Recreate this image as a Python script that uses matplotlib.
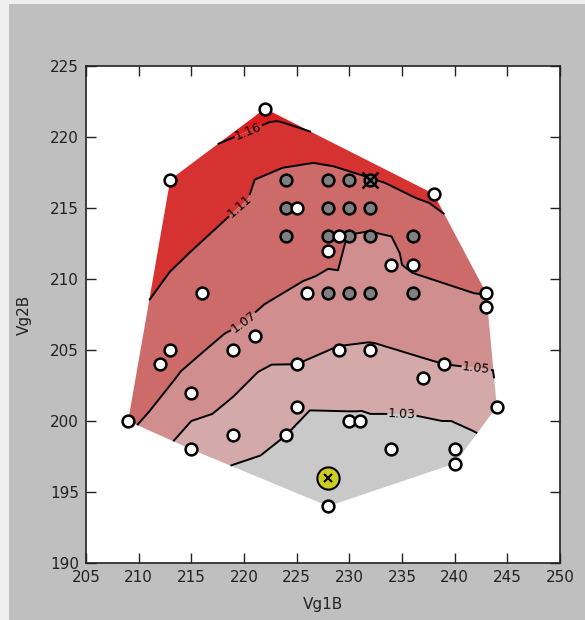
import matplotlib
matplotlib.use("Agg")
import matplotlib.pyplot as plt
import matplotlib.tri as mtri
from matplotlib.patches import Rectangle

# Measured operating points (Vg1B, Vg2B) and the ratio found at each one
vg1_meas = [222, 213, 238, 225, 229, 228, 216, 226, 234, 236, 243, 243,
            221, 219, 213, 212, 225, 229, 232, 239, 237, 244, 215, 209,
            225, 224, 219, 215, 230, 231, 234, 240, 240, 228]
vg2_meas = [222, 217, 216, 215, 213, 212, 209, 209, 211, 211, 209, 208,
            206, 205, 205, 204, 204, 205, 205, 204, 203, 201, 202, 200,
            201, 199, 199, 198, 200, 200, 198, 198, 197, 194]
ratio_meas = [1.175, 1.145, 1.12, 1.095, 1.075, 1.076, 1.09, 1.066, 1.068, 1.072, 1.071, 1.062,
              1.063, 1.062, 1.08, 1.08, 1.05, 1.049, 1.048, 1.05, 1.045, 1.043, 1.06, 1.075,
              1.031, 1.03, 1.04, 1.04, 1.027, 1.027, 1.015, 1.02, 1.015, 1.005]

# Grid of scan points (grey)
vg1_scan = [224, 228, 230, 224, 228, 230, 232, 224, 228, 230, 232, 236,
            228, 230, 232, 236]
vg2_scan = [217, 217, 217, 215, 215, 215, 215, 213, 213, 213, 213, 213,
            209, 209, 209, 209]
ratio_scan = [1.097, 1.09, 1.095, 1.093, 1.085, 1.085, 1.085, 1.085, 1.08, 1.069, 1.067, 1.073,
              1.062, 1.063, 1.063, 1.065]

# Best point (crossed) and current working point (yellow)
best_vg1, best_vg2, best_ratio = 232, 217, 1.107
cur_vg1, cur_vg2 = 228, 196

line_levels = [1.03, 1.05, 1.07, 1.11, 1.16]
fill_levels = [0.9] + line_levels + [1.4]
band_colors = ["#c9c9c9", "#d3a9a9", "#d08e8e", "#cd6a6a", "#d63232", "#de1e1e"]
label_spots = [(235.0, 200.8), (242.0, 203.4), (219.8, 207.1), (219.3, 215.4), (220.3, 220.6)]

fig = plt.figure(figsize=(5.85, 6.2), dpi=100, facecolor="#bfbfbf")
fig.patches.append(Rectangle((0, 0), 9 / 585, 1, transform=fig.transFigure,
                             facecolor="#efefef", edgecolor="none", zorder=-10))
fig.patches.append(Rectangle((0, 1 - 4 / 620), 1, 4 / 620, transform=fig.transFigure,
                             facecolor="#efefef", edgecolor="none", zorder=-10))

ax = fig.add_axes([86 / 585, 1 - 563 / 620, 474 / 585, 497 / 620])
ax.set_facecolor("white")

xs = vg1_meas + vg1_scan + [best_vg1]
ys = vg2_meas + vg2_scan + [best_vg2]
zs = ratio_meas + ratio_scan + [best_ratio]
tri = mtri.Triangulation(xs, ys)

ax.tricontourf(tri, zs, levels=fill_levels, colors=band_colors, antialiased=True)
cs = ax.tricontour(tri, zs, levels=line_levels, colors="black", linewidths=1.4)
ax.clabel(cs, fmt="%.2f", fontsize=9, inline=True, manual=label_spots)

ax.plot(vg1_scan, vg2_scan, "o", ms=8.5, mfc="#808080", mec="black", mew=1.8, ls="none")
ax.plot(vg1_meas, vg2_meas, "o", ms=8.5, mfc="white", mec="black", mew=1.8, ls="none")
ax.plot([best_vg1], [best_vg2], "o", ms=8.5, mfc="#808080", mec="black", mew=1.8)
ax.plot([best_vg1], [best_vg2], "x", ms=11, mec="black", mew=1.8)
ax.plot([cur_vg1], [cur_vg2], "o", ms=16, mfc="#cccc22", mec="black", mew=1.5)
ax.plot([cur_vg1], [cur_vg2], "x", ms=6, mec="black", mew=1.5)

ax.set_xlim(205, 250)
ax.set_ylim(190, 225)
ax.set_xticks(range(205, 251, 5))
ax.set_yticks(range(190, 226, 5))
ax.tick_params(direction="in", length=7, width=1, top=True, right=True,
               labelsize=11, colors="#222222", pad=5)
for sp in ax.spines.values():
    sp.set_linewidth(1.2)
    sp.set_color("#222222")
ax.set_xlabel("Vg1B", fontsize=11, color="#222222", labelpad=9)
ax.set_ylabel("Vg2B", fontsize=11, color="#222222", labelpad=13)

fig.savefig("out.png", dpi=100, facecolor=fig.get_facecolor())
